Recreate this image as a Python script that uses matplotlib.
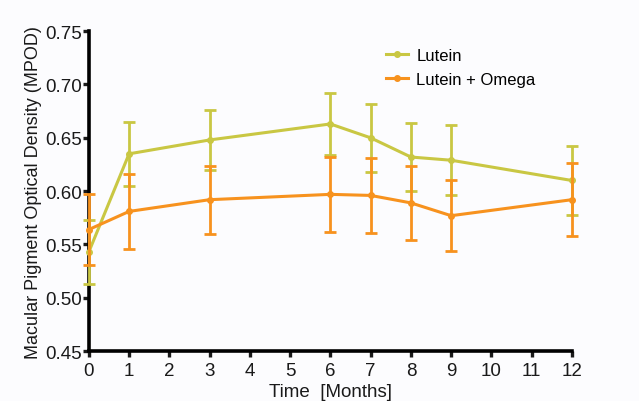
import matplotlib.pyplot as plt
from matplotlib.lines import Line2D

plt.rcParams['font.family'] = ['Liberation Sans', 'DejaVu Sans']

months = [0, 1, 3, 6, 7, 8, 9, 12]

lutein = [0.543, 0.635, 0.648, 0.663, 0.650, 0.632, 0.629, 0.610]
lutein_err = [0.030, 0.030, 0.028, 0.029, 0.032, 0.032, 0.033, 0.032]

omega = [0.564, 0.581, 0.592, 0.597, 0.596, 0.589, 0.577, 0.592]
omega_err = [0.033, 0.035, 0.032, 0.035, 0.035, 0.035, 0.033, 0.034]

c_lut = "#c9c743"
c_omg = "#f7921e"
txt = "#1a1a1a"

fig = plt.figure(figsize=(6.39, 4.02), dpi=100, facecolor="#fcfcfe")
ax = fig.add_axes([0.139, 0.124, 0.756, 0.796], facecolor="#fcfcfe")

ax.errorbar(months, lutein, yerr=lutein_err, color=c_lut, lw=2.2, marker="o", ms=4,
            capsize=4, capthick=2, elinewidth=2, clip_on=False, zorder=3)
ax.errorbar(months, omega, yerr=omega_err, color=c_omg, lw=2.2, marker="o", ms=4,
            capsize=4, capthick=2, elinewidth=2, clip_on=False, zorder=4)

ax.set_xlim(0, 12)
ax.set_ylim(0.45, 0.75)
ax.set_xticks(range(13))
ax.set_yticks([0.45, 0.50, 0.55, 0.60, 0.65, 0.70, 0.75])
ax.set_yticklabels(["0.45", "0.50", "0.55", "0.60", "0.65", "0.70", "0.75"])

for s in ["top", "right"]:
    ax.spines[s].set_visible(False)
for s in ["left", "bottom"]:
    ax.spines[s].set_linewidth(2.6)
ax.tick_params(width=2.4, length=4, labelsize=13.5, colors=txt)
ax.tick_params(axis="y", pad=1)
ax.tick_params(axis="x", pad=4)

ax.set_ylabel("Macular Pigment Optical Density (MPOD)", fontsize=13, color=txt, labelpad=2)
ax.set_xlabel("Time  [Months]", fontsize=13.5, color=txt, labelpad=3)

handles = [Line2D([], [], color=c_lut, lw=2.2, marker="o", ms=4),
           Line2D([], [], color=c_omg, lw=2.2, marker="o", ms=4)]
ax.legend(handles, ["Lutein", "Lutein + Omega"], loc="upper left",
          bbox_to_anchor=(0.585, 0.995), frameon=False, fontsize=12,
          handlelength=1.3, handletextpad=0.5, labelspacing=0.55)

fig.savefig("out.png", dpi=100, facecolor=fig.get_facecolor())
